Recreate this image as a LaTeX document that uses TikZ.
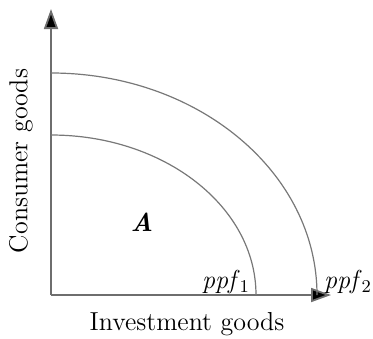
\documentclass[tikz,border=0pt]{standalone}
\usepackage{tikz}
\usetikzlibrary{arrows.meta}
\definecolor{axisgray}{RGB}{110,110,110}
\definecolor{curvegray}{RGB}{120,120,120}

\begin{document}
\begin{tikzpicture}[
  x=0.5pt, y=-0.5pt,
  axis/.style={axisgray, line width=0.9pt, -{Triangle[length=10pt,width=7pt,fill=black]}},
  ppf/.style={curvegray, line width=0.6pt},
  lbl/.style={font=\fontsize{13}{15}\selectfont, inner sep=0pt},
  every node/.style={font=\fontsize{12}{14}\selectfont}
]
\useasboundingbox (0,0) rectangle (373,338);
\coordinate (O) at (51,295);
\coordinate (ytop) at (51,9);
\coordinate (xend) at (331,295);
\draw[axis] (O) -- (ytop);
\draw[axis] (O) -- (xend);

\draw[ppf] (51,135) arc[start angle=-90, end angle=0, x radius=205, y radius=160];
\draw[ppf] (51,73) arc[start angle=-90, end angle=0, x radius=266, y radius=222];

\node[lbl] (A) at (142,222) {\itshape\bfseries A};
\node[lbl] (ppf1) at (226,282) {\itshape ppf\/$_1$};
\node[lbl] (ppf2) at (348,282) {\itshape ppf\/$_2$};
\node[lbl] (xlab) at (187,324) {Investment goods};
\node[lbl, rotate=90] (ylab) at (21,161) {Consumer goods};
\end{tikzpicture}
\end{document}
